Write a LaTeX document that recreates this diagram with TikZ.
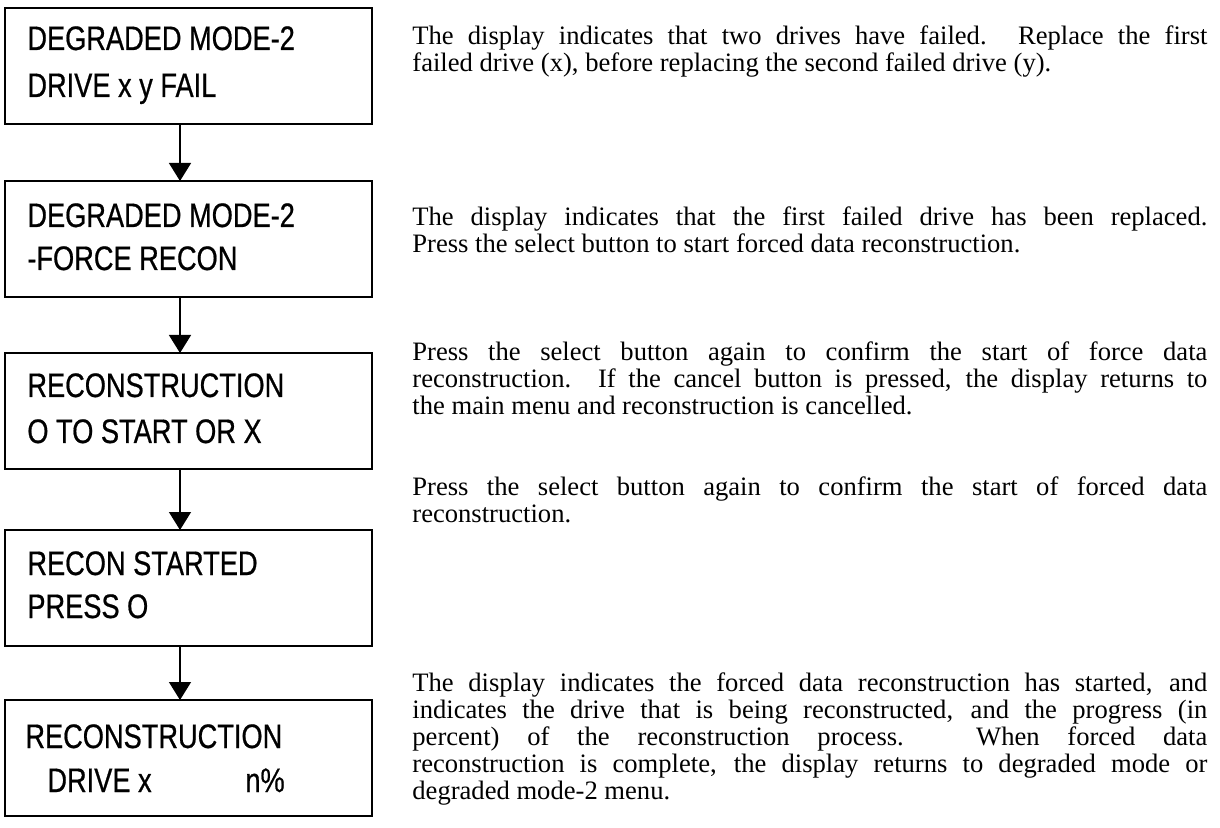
\documentclass[tikz,border=0pt]{standalone}
\usepackage{fontspec}
\setmainfont{Liberation Serif}
\newfontfamily\lcdfont[FakeStretch=0.8,FakeBold=0.6]{Liberation Sans}
\usetikzlibrary{arrows.meta}
\begin{document}
\begin{tikzpicture}[x=0.5pt,y=-0.5pt,
  box/.style={draw, line width=1pt, minimum width=183.5pt, minimum height=58pt, inner sep=0pt, outer sep=0pt, anchor=north west},
  lcd/.style={font=\lcdfont\fontsize{17pt}{20pt}\selectfont, anchor=base west, inner sep=0pt},
  desc/.style={font=\fontsize{13.3pt}{13.6pt}\selectfont, text width=397.5pt, align=justify, anchor=north west, inner sep=0pt},
  flow/.style={line width=0.7pt, -{Triangle[length=9pt,width=11pt]}}]
\fill[white] (0,0) rectangle (1220,828);
\useasboundingbox (0,0) rectangle (1220,828);
% boxes
\node[box] (b1) at (5,8) {};
\node[box] (b2) at (5,181) {};
\node[box] (b3) at (5,353) {};
\node[box] (b4) at (5,530) {};
\node[box] (b5) at (5,700) {};
% box texts
\node[lcd] (t1a) at (27,50) {DEGRADED MODE-2};
\node[lcd] (t1b) at (27,97) {DRIVE x y FAIL};
\node[lcd] (t2a) at (27,227) {DEGRADED MODE-2};
\node[lcd] (t2b) at (27,270) {-FORCE RECON};
\node[lcd] (t3a) at (27,397) {RECONSTRUCTION};
\node[lcd] (t3b) at (27,443) {O TO START OR X};
\node[lcd] (t4a) at (27,575) {RECON STARTED};
\node[lcd] (t4b) at (27,618) {PRESS O};
\node[lcd] (t5a) at (25,748) {RECONSTRUCTION};
\node[lcd] (t5b) at (47,792) {DRIVE x};
\node[lcd] (t5c) at (245,792) {n\%};
% arrows
\coordinate (ax) at (180,0);
\draw[flow] (b1.south -| ax) -- (b2.north -| ax);
\draw[flow] (b2.south -| ax) -- (b3.north -| ax);
\draw[flow] (b3.south -| ax) -- (b4.north -| ax);
\draw[flow] (b4.south -| ax) -- (b5.north -| ax);
% descriptions
\node[desc] (d1) at (412,25) {The display indicates that two drives have failed.  Replace the first\linebreak failed drive (x), before replacing the second failed drive (y).};
\node[desc] (d2) at (412,206) {The display indicates that the first failed drive has been replaced.\linebreak Press the select button to start forced data reconstruction.};
\node[desc] (d3) at (412,341) {Press the select button again to confirm the start of force data\linebreak reconstruction.  If the cancel button is pressed, the display returns to\linebreak the main menu and reconstruction is cancelled.};
\node[desc] (d4) at (412,476) {Press the select button again to confirm the start of forced data\linebreak reconstruction.};
\node[desc] (d5) at (412,672) {The display indicates the forced data reconstruction has started, and\linebreak indicates the drive that is being reconstructed, and the progress (in\linebreak percent) of the reconstruction process.  When forced data\linebreak reconstruction is complete, the display returns to degraded mode or\linebreak degraded mode-2 menu.};
\end{tikzpicture}
\end{document}
